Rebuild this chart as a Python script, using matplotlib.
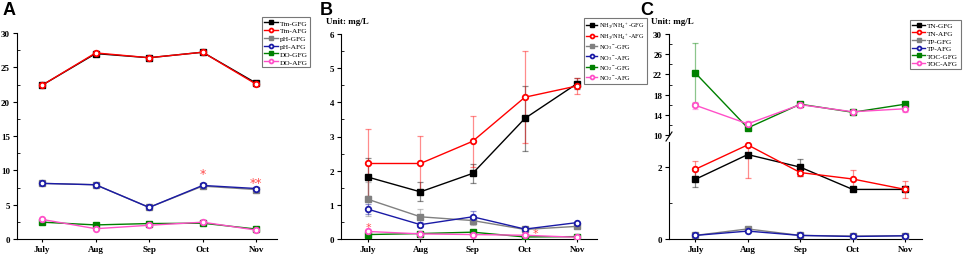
import matplotlib
matplotlib.use('Agg')
import matplotlib.pyplot as plt
from matplotlib.ticker import MultipleLocator, FixedLocator

plt.rcParams['mathtext.fontset'] = 'custom'
plt.rcParams['mathtext.rm'] = 'Liberation Serif'
plt.rcParams['mathtext.it'] = 'Liberation Serif:italic'
plt.rcParams['mathtext.default'] = 'regular'

months = ['July', 'Aug', 'Sep', 'Oct', 'Nov']

# panel A
tm_gfg = [22.4, 27.0, 26.4, 27.2, 22.7]
tm_afg = [22.4, 27.1, 26.4, 27.2, 22.55]
ph_gfg = [8.1, 7.9, 4.6, 7.7, 7.2]
ph_afg = [8.1, 7.9, 4.6, 7.8, 7.35]
do_gfg = [2.45, 2.05, 2.25, 2.3, 1.45]
do_afg = [2.85, 1.5, 2.0, 2.45, 1.3]

# panel B (mg/L)
nh_gfg = [1.81, 1.38, 1.92, 3.53, 4.55]
nh_gfg_err = [0.55, 0.28, 0.27, 0.95, 0.15]
nh_afg = [2.21, 2.21, 2.86, 4.15, 4.48]
nh_afg_err = [1.0, 0.8, 0.74, 1.35, 0.23]
no3_gfg = [1.16, 0.65, 0.54, 0.28, 0.37]
no3_gfg_err = [0.5, 0.23, 0.14, 0.03, 0.04]
no3_afg = [0.87, 0.42, 0.65, 0.29, 0.48]
no3_afg_err = [0.15, 0.07, 0.16, 0.02, 0.03]
no2_gfg = [0.13, 0.16, 0.2, 0.06, 0.07]
no2_gfg_err = [0.02, 0.02, 0.03, 0.01, 0.01]
no2_afg = [0.22, 0.15, 0.13, 0.11, 0.05]
no2_afg_err = [0.03, 0.02, 0.02, 0.02, 0.01]

# panel C (mg/L)
tn_gfg = [1.66, 2.35, 2.0, 1.38, 1.38]
tn_gfg_err = [0.22, 0.05, 0.24, 0.05, 0.05]
tn_afg = [1.94, 2.62, 1.85, 1.67, 1.38]
tn_afg_err = [0.22, 0.93, 0.1, 0.26, 0.24]
tp_gfg = [0.1, 0.28, 0.1, 0.08, 0.09]
tp_afg = [0.1, 0.22, 0.1, 0.07, 0.09]
toc_gfg = [22.3, 11.4, 16.1, 14.5, 16.1]
toc_gfg_err = [5.9, 0.3, 0.3, 0.2, 0.2]
toc_afg = [15.9, 12.2, 16.0, 14.6, 15.2]
toc_afg_err = [0.7, 0.5, 0.3, 0.2, 0.6]
toc_ticks = [10, 14, 18, 22, 26, 30]

BLACK = '#000000'
RED = '#ff0000'
GRAY = '#808080'
BLUE = '#1a1aa6'
GREEN = '#008000'
PINK = '#ff4fc8'

serif = 'Liberation Serif'
x = list(range(len(months)))


def series(ax, y, color, marker, label, err=None):
    if err is not None:
        ax.errorbar(x, y, yerr=err, fmt='none', ecolor=color, alpha=0.45,
                    elinewidth=0.9, capsize=2, capthick=0.9, zorder=1)
    if marker == 's':
        ax.plot(x, y, color=color, lw=1.0, marker='s', ms=4, mfc=color,
                mec=color, label=label, zorder=3)
    else:
        ax.plot(x, y, color=color, lw=1.0, marker='o', ms=4, mfc='white',
                mec=color, mew=1.3, label=label, zorder=3)


def style(ax, major, minor, xlabels=True):
    ax.spines['top'].set_visible(False)
    ax.spines['right'].set_visible(False)
    if isinstance(major, list):
        ax.yaxis.set_major_locator(FixedLocator(major))
    else:
        ax.yaxis.set_major_locator(MultipleLocator(major))
    ax.yaxis.set_minor_locator(MultipleLocator(minor))
    ax.tick_params(axis='y', which='major', direction='out', length=3, width=0.8, pad=2)
    ax.tick_params(axis='y', which='minor', direction='in', length=2, width=0.6)
    ax.tick_params(axis='x', direction='out', length=2.5, width=0.8, pad=1.5)
    ax.set_xticks(x)
    if xlabels:
        ax.set_xticklabels(months, fontfamily=serif, fontweight='bold', fontsize=6.5)
    else:
        ax.set_xticklabels([])
    for lab in ax.get_yticklabels():
        lab.set_fontfamily(serif)
        lab.set_fontweight('bold')
        lab.set_fontsize(6.5)


def legend(ax, loc, size=5.2, handles=None, labels=None):
    if handles is None:
        handles, labels = ax.get_legend_handles_labels()
    leg = ax.legend(handles, labels, loc='upper left', bbox_to_anchor=loc,
                    bbox_transform=fig.transFigure,
                    prop={'family': serif, 'size': size}, frameon=True, fancybox=False,
                    handlelength=1.8, handletextpad=0.3, borderpad=0.3, labelspacing=0.22,
                    markerscale=0.7, borderaxespad=0)
    leg.get_frame().set_edgecolor('#555555')
    leg.get_frame().set_linewidth(0.8)


fig = plt.figure(figsize=(9.64, 2.55), dpi=100)

# ---- A ----
axA = fig.add_axes([17 / 964, 15 / 255, 260 / 964, 206 / 255])
series(axA, tm_gfg, BLACK, 's', 'Tm-GFG')
series(axA, tm_afg, RED, 'o', 'Tm-AFG')
series(axA, ph_gfg, GRAY, 's', 'pH-GFG')
series(axA, ph_afg, BLUE, 'o', 'pH-AFG')
series(axA, do_gfg, GREEN, 's', 'DO-GFG')
series(axA, do_afg, PINK, 'o', 'DO-AFG')
axA.set_xlim(-0.47, 4.39)
axA.set_ylim(0, 30)
style(axA, 5, 2.5)
axA.text(3, 9.6, '*', color=RED, ha='center', va='center', fontsize=9, alpha=0.7)
axA.text(4, 8.3, '**', color=RED, ha='center', va='center', fontsize=9, alpha=0.7)
legend(axA, (262 / 964, 1 - 18 / 255), size=5.4)
fig.text(3 / 964, 1 - 2 / 255, 'A', fontsize=13, fontweight='bold',
         family='Liberation Sans', va='top')

# ---- B ----
axB = fig.add_axes([341 / 964, 15 / 255, 256 / 964, 205 / 255])
series(axB, nh_gfg, BLACK, 's', r'NH$_3$/NH$_4$$^+$-GFG', nh_gfg_err)
series(axB, nh_afg, RED, 'o', r'NH$_3$/NH$_4$$^+$-AFG', nh_afg_err)
series(axB, no3_gfg, GRAY, 's', r'NO$_3$$^-$-GFG', no3_gfg_err)
series(axB, no3_afg, BLUE, 'o', r'NO$_3$$^-$-AFG', no3_afg_err)
series(axB, no2_gfg, GREEN, 's', r'NO$_2$$^-$-GFG', no2_gfg_err)
series(axB, no2_afg, PINK, 'o', r'NO$_2$$^-$-AFG', no2_afg_err)
axB.set_xlim(-0.52, 4.38)
axB.set_ylim(0, 6)
style(axB, 1, 0.5)
axB.text(0, 0.36, '*', color=RED, ha='center', va='center', fontsize=8, alpha=0.7)
axB.text(3.2, 0.17, '*', color=RED, ha='center', va='center', fontsize=8, alpha=0.7)
legend(axB, (584 / 964, 1 - 19 / 255), size=4.6)
fig.text(320 / 964, 1 - 2 / 255, 'B', fontsize=13, fontweight='bold',
         family='Liberation Sans', va='top')
fig.text(326 / 964, 1 - 18 / 255, 'Unit: mg/L', fontsize=6.5, fontweight='bold',
         family=serif, va='top')

# ---- C (broken axis) ----
axC1 = fig.add_axes([669 / 964, 119 / 255, 253 / 964, 101 / 255])
axC2 = fig.add_axes([669 / 964, 15 / 255, 253 / 964, 97 / 255])
series(axC2, tn_gfg, BLACK, 's', 'TN-GFG', tn_gfg_err)
series(axC2, tn_afg, RED, 'o', 'TN-AFG', tn_afg_err)
series(axC2, tp_gfg, GRAY, 's', 'TP-GFG')
series(axC2, tp_afg, BLUE, 'o', 'TP-AFG')
series(axC1, toc_gfg, GREEN, 's', 'TOC-GFG', toc_gfg_err)
series(axC1, toc_afg, PINK, 'o', 'TOC-AFG', toc_afg_err)
for ax in (axC1, axC2):
    ax.set_xlim(-0.5, 4.32)
axC1.set_ylim(10, 30)
axC2.set_ylim(0, 2.7)
style(axC1, toc_ticks, 2, xlabels=False)
style(axC2, 2, 1)
axC1.spines['bottom'].set_visible(False)
axC1.tick_params(axis='x', length=0)
# break mark on left spine
fig.add_artist(plt.Line2D([666 / 964, 672 / 964], [113 / 255, 122 / 255],
                          color='black', lw=0.8))

h1, l1 = axC2.get_legend_handles_labels()
h2, l2 = axC1.get_legend_handles_labels()
legend(axC1, (910 / 964, 1 - 21 / 255), size=5.2, handles=h1 + h2, labels=l1 + l2)
fig.text(640 / 964, 1 - 2 / 255, 'C', fontsize=13, fontweight='bold',
         family='Liberation Sans', va='top')
fig.text(651 / 964, 1 - 18 / 255, 'Unit: mg/L', fontsize=6.5, fontweight='bold',
         family=serif, va='top')

fig.savefig('out.png', dpi=100)
